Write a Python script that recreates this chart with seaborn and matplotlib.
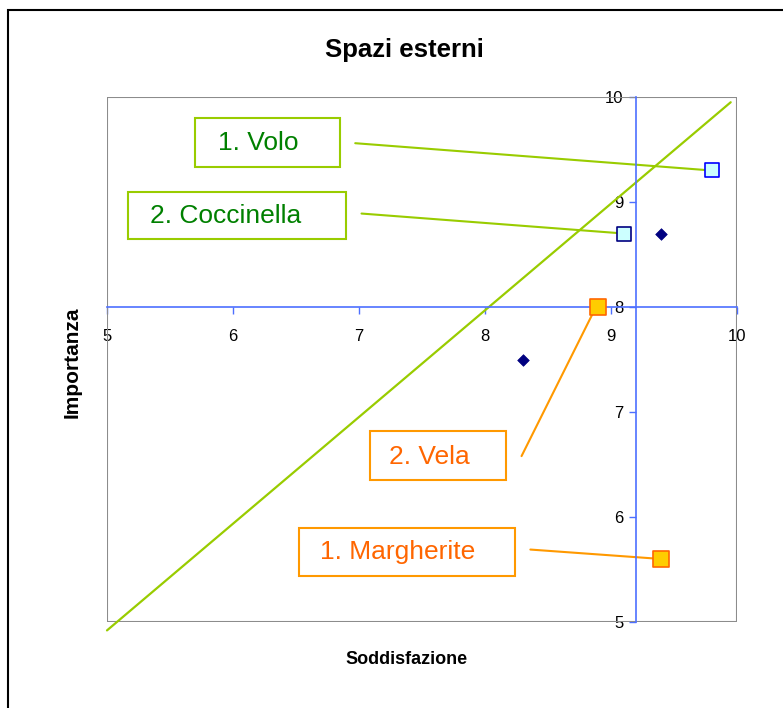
import numpy as np
import pandas as pd
import matplotlib
matplotlib.use("Agg")
import matplotlib.pyplot as plt
import seaborn as sns
from matplotlib.patches import Rectangle

# data
soddisfazione = [9.8, 9.1, 9.4, 8.3, 8.9, 9.4]
importanza = [9.3, 8.7, 8.7, 7.5, 8.0, 5.6]
gruppo = ["volo", "coccinella", "altro", "altro", "vela", "margherite"]
etichette = {"volo": "1. Volo", "coccinella": "2. Coccinella",
             "vela": "2. Vela", "margherite": "1. Margherite"}
diag_x = [5.0, 9.95]
diag_y = [4.92, 9.95]
x_ticks = [5, 6, 7, 8, 9, 10]
y_ticks = [5, 6, 7, 8, 9, 10]
cross_x, cross_y = 9.2, 8.0

df = pd.DataFrame({"x": soddisfazione, "y": importanza, "g": gruppo})

GREEN = "#99CC00"
GREEN_TXT = "#008000"
ORANGE = "#FF9900"
ORANGE_TXT = "#FF6600"
AXBLUE = "#4D6FFF"

# marker styles per group
stili = {
    "volo": dict(marker="s", s=110, color="#CCFFFF", edgecolor="#0000FF", linewidth=1.2),
    "coccinella": dict(marker="s", s=110, color="#CCFFFF", edgecolor="#000080", linewidth=1.2),
    "altro": dict(marker="D", s=35, color="#000080", edgecolor="#000080", linewidth=0.5),
    "vela": dict(marker="s", s=130, color="#FFCC00", edgecolor="#FF6600", linewidth=1.2),
    "margherite": dict(marker="s", s=130, color="#FFCC00", edgecolor="#FF6600", linewidth=1.2),
}

# label box layout (data coords): box x0, x1, y0, y1, text x, text y, line start
layout = {
    "volo": (5.70, 6.85, 9.33, 9.80, 5.88, 9.56, (6.97, 9.56), GREEN, GREEN_TXT, (0, 0)),
    "coccinella": (5.17, 6.90, 8.65, 9.10, 5.34, 8.87, (7.02, 8.89), GREEN, GREEN_TXT, (0, 0)),
    "vela": (7.09, 8.17, 6.35, 6.82, 7.24, 6.57, (8.29, 6.58), ORANGE, ORANGE_TXT, (-0.04, -0.05)),
    "margherite": (6.52, 8.24, 5.44, 5.90, 6.69, 5.67, (8.36, 5.69), ORANGE, ORANGE_TXT, (0, 0)),
}

sns.set_style("white")
plt.rcParams["font.family"] = ["Liberation Sans", "DejaVu Sans"]
plt.rcParams["text.color"] = "black"

fig = plt.figure(figsize=(7.83, 7.08), dpi=100)
ax = fig.add_axes([107 / 783, 1 - 622 / 708, 630 / 783, 525 / 708])

# outer chart border
fig.patches.append(Rectangle((8 / 783, -0.05), 1.2, 1 - 10 / 708 + 0.05,
                             transform=fig.transFigure, fill=False,
                             edgecolor="black", linewidth=1.5, zorder=0))

# diagonal
ax.plot(diag_x, diag_y, color=GREEN, linewidth=1.6, zorder=2, clip_on=False)

# leader lines and label boxes
for g, (bx0, bx1, by0, by1, tx, ty, start, ec, tc, off) in layout.items():
    row = df[df.g == g].iloc[0]
    ax.plot([start[0], row.x + off[0]], [start[1], row.y + off[1]], color=ec, linewidth=1.5, zorder=2)
    ax.add_patch(Rectangle((bx0, by0), bx1 - bx0, by1 - by0, fill=False,
                           edgecolor=ec, linewidth=1.5, zorder=3))
    ax.text(tx, ty, etichette[g], color=tc, fontsize=19, ha="left", va="center", zorder=4)

for g, st in stili.items():
    sub = df[df.g == g]
    sns.scatterplot(data=sub, x="x", y="y", ax=ax, zorder=5, legend=False, **st)

ax.set_xlim(5, 10)
ax.set_ylim(5, 10)
ax.set_xticks(x_ticks)
ax.set_yticks(y_ticks)
ax.set_xlabel("")
ax.set_ylabel("")

# crossing axes
ax.spines["left"].set_position(("data", cross_x))
ax.spines["bottom"].set_position(("data", cross_y))
for s in ["left", "bottom"]:
    ax.spines[s].set_color(AXBLUE)
    ax.spines[s].set_linewidth(1.2)
for s in ["top", "right"]:
    ax.spines[s].set_visible(False)
ax.add_patch(Rectangle((0, 0), 1, 1, transform=ax.transAxes, fill=False,
                       edgecolor="#8C8C8C", linewidth=1.5, zorder=1))
ax.tick_params(axis="both", direction="out", length=5, width=1, color=AXBLUE,
               labelsize=12, labelcolor="black", pad=4)
ax.tick_params(axis="x", bottom=True, pad=11)
ax.tick_params(axis="y", left=True)

fig.text(404 / 783, 1 - 50 / 708, "Spazi esterni", fontsize=18.5, fontweight="bold",
         ha="center", va="center")
fig.text(407 / 783, 1 - 660 / 708, "Soddisfazione", fontsize=13, fontweight="bold",
         ha="center", va="center")
fig.text(72 / 783, 1 - 362 / 708, "Importanza", fontsize=15, fontweight="bold",
         ha="center", va="center", rotation=90)

fig.savefig("out.png", dpi=100)
